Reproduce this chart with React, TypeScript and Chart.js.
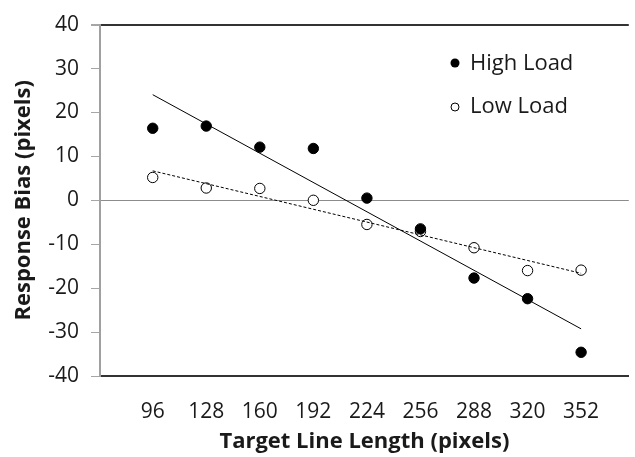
import React, { useEffect, useRef } from "react";
import { Chart, registerables } from "chart.js";

Chart.register(...registerables);

const lengths = [96, 128, 160, 192, 224, 256, 288, 320, 352];
const highLoad = [16.4, 16.9, 12.1, 11.8, 0.5, -6.5, -17.7, -22.4, -34.6];
const lowLoad = [5.2, 2.8, 2.7, 0.0, -5.5, -7.1, -10.8, -16.0, -15.9];
const yTicks = [-40, -30, -20, -10, 0, 10, 20, 30, 40];
const seriesNames = ["High Load", "Low Load"];
const xTitle = "Target Line Length (pixels)";
const yTitle = "Response Bias (pixels)";

function trend(xs: number[], ys: number[]) {
  const n = xs.length;
  const mx = xs.reduce((a, b) => a + b, 0) / n;
  const my = ys.reduce((a, b) => a + b, 0) / n;
  let sxy = 0;
  let sxx = 0;
  for (let i = 0; i < n; i++) {
    sxy += (xs[i] - mx) * (ys[i] - my);
    sxx += (xs[i] - mx) * (xs[i] - mx);
  }
  const slope = sxy / sxx;
  const x0 = xs[0];
  const x1 = xs[n - 1];
  return [
    { x: x0, y: my + slope * (x0 - mx) },
    { x: x1, y: my + slope * (x1 - mx) },
  ];
}

const FONT = "'Open Sans', 'Noto Sans', sans-serif";
const TEXT = "#1a1a1a";

const legendPlugin = {
  id: "inlineLegend",
  afterDraw(chart: any) {
    const ctx = chart.ctx;
    ctx.save();
    ctx.font = `22px ${FONT}`;
    ctx.fillStyle = TEXT;
    ctx.textBaseline = "middle";
    ctx.textAlign = "left";
    // High load
    ctx.beginPath();
    ctx.arc(455, 63, 4.5, 0, Math.PI * 2);
    ctx.fillStyle = "#000";
    ctx.fill();
    ctx.fillStyle = TEXT;
    ctx.fillText(seriesNames[0], 470, 64);
    // Low load
    ctx.beginPath();
    ctx.arc(455, 107, 4, 0, Math.PI * 2);
    ctx.fillStyle = "#fff";
    ctx.fill();
    ctx.lineWidth = 1;
    ctx.strokeStyle = "#000";
    ctx.stroke();
    ctx.fillStyle = TEXT;
    ctx.fillText(seriesNames[1], 470, 107);
    ctx.restore();
  },
};

export default function App() {
  const ref = useRef<HTMLCanvasElement | null>(null);

  useEffect(() => {
    if (!ref.current) return;
    const chart = new Chart(ref.current, {
      type: "scatter",
      data: {
        datasets: [
          {
            type: "line",
            label: "High trend",
            data: trend(lengths, highLoad),
            borderColor: "#000",
            borderWidth: 1,
            pointRadius: 0,
            fill: false,
          },
          {
            type: "line",
            label: "Low trend",
            data: trend(lengths, lowLoad),
            borderColor: "#000",
            borderWidth: 1,
            borderDash: [3, 2],
            pointRadius: 0,
            fill: false,
          },
          {
            label: seriesNames[0],
            data: lengths.map((x, i) => ({ x, y: highLoad[i] })),
            backgroundColor: "#000",
            borderColor: "#000",
            borderWidth: 1,
            pointRadius: 5.2,
          },
          {
            label: seriesNames[1],
            data: lengths.map((x, i) => ({ x, y: lowLoad[i] })),
            backgroundColor: "#fff",
            borderColor: "#000",
            borderWidth: 1,
            pointRadius: 5.2,
          },
        ],
      },
      options: {
        animation: false,
        responsive: true,
        maintainAspectRatio: false,
        layout: { padding: { top: 20, right: 0, left: 0, bottom: 0 } },
        plugins: {
          legend: { display: false },
          tooltip: { enabled: false },
        },
        scales: {
          x: {
            type: "linear",
            min: 64.5,
            max: 380.5,
            afterBuildTicks: (scale: any) => {
              scale.ticks = lengths.map((v) => ({ value: v }));
            },
            afterFit: (scale: any) => {
              scale.height = 81;
            },
            grid: { display: false, drawTicks: false },
            border: { display: true, color: "#333", width: 2 },
            ticks: {
              color: TEXT,
              font: { family: FONT, size: 21 },
              padding: 23,
              maxRotation: 0,
              autoSkip: false,
            },
            title: {
              display: true,
              text: xTitle,
              color: TEXT,
              font: { family: FONT, size: 22, weight: "bold" },
              padding: { top: 0, bottom: 2 },
            },
          },
          y: {
            min: -40,
            max: 40,
            afterBuildTicks: (scale: any) => {
              scale.ticks = yTicks.map((v) => ({ value: v }));
            },
            afterFit: (scale: any) => {
              scale.width = 100;
            },
            grid: {
              color: (c: any) =>
                c.tick && c.tick.value === 0
                  ? "#8c8c8c"
                  : c.tick && c.tick.value === 40
                  ? "#333"
                  : "rgba(0,0,0,0)",
              lineWidth: (c: any) => (c.tick && c.tick.value === 40 ? 2 : 1),
              tickColor: "#a6a6a6",
              tickLength: 9,
            },
            border: { display: true, color: "#a0a0a0", width: 2 },
            ticks: {
              color: TEXT,
              font: { family: FONT, size: 21 },
              padding: 12,
            },
            title: {
              display: true,
              text: yTitle,
              color: TEXT,
              font: { family: FONT, size: 22, weight: "bold" },
              padding: { top: 11, bottom: 0 },
            },
          },
        },
      },
      plugins: [legendPlugin],
    });
    return () => chart.destroy();
  }, []);

  return (
    <div style={{ position: "absolute", left: 0, top: 0, width: 635, height: 457 }}>
      <canvas ref={ref} />
    </div>
  );
}
